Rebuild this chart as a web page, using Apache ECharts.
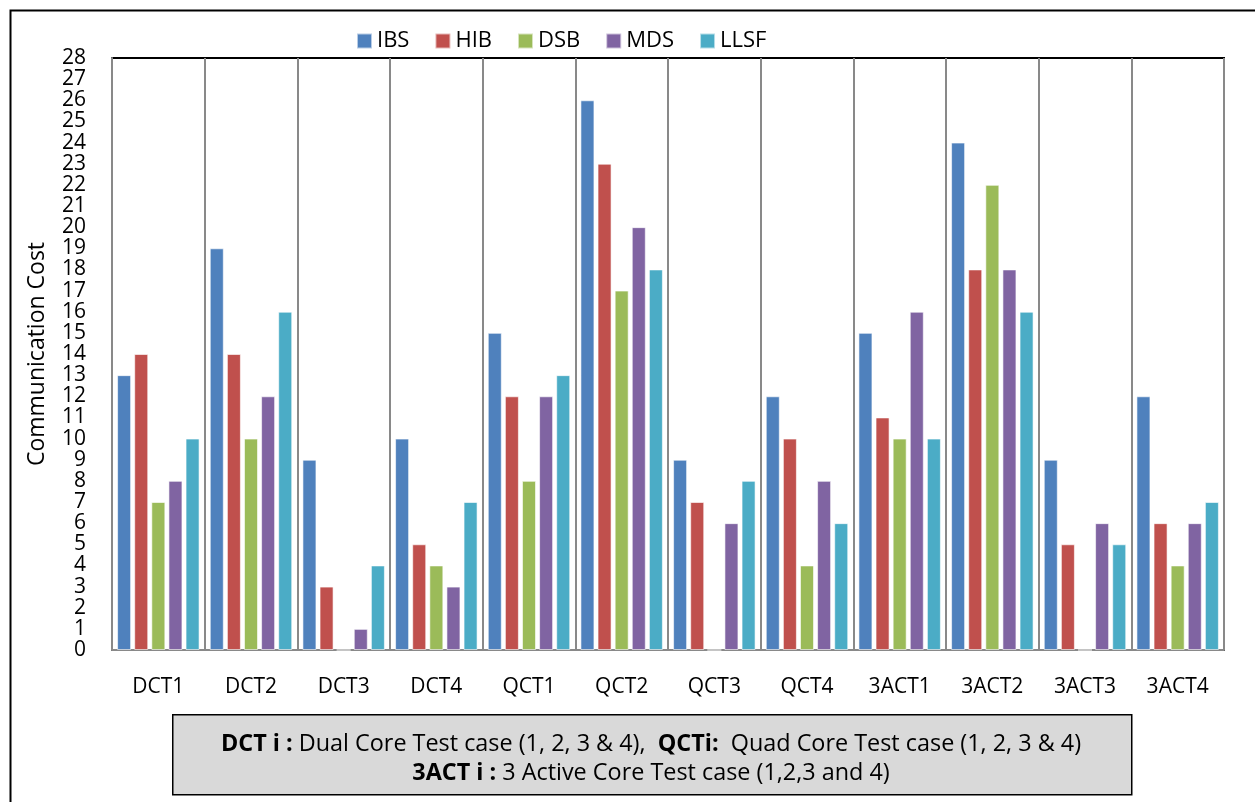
<!DOCTYPE html>
<html><head><meta charset="utf-8">
<script src="https://cdn.jsdelivr.net/npm/echarts@6/dist/echarts.min.js"></script>
<style>html,body{margin:0;padding:0;background:#fff}#c{width:1255px;height:802px}</style>
</head><body><div id="c"></div>
<script>
const categories = ['DCT1','DCT2','DCT3','DCT4','QCT1','QCT2','QCT3','QCT4','3ACT1','3ACT2','3ACT3','3ACT4'];
const IBS  = [13,19,9,10,15,26,9,12,15,24,9,12];
const HIB  = [14,14,3,5,12,23,7,10,11,18,5,6];
const DSB  = [7,10,0,4,8,17,0,4,10,22,0,4];
const MDS  = [8,12,1,3,12,20,6,8,16,18,6,6];
const LLSF = [10,16,4,7,13,18,8,6,10,16,5,7];
const seriesNames = ['IBS','HIB','DSB','MDS','LLSF'];
const seriesData = [IBS,HIB,DSB,MDS,LLSF];
const colors = ['#4F81BD','#C0504D','#9BBB59','#8064A2','#4BACC6'];
const FONT = '"Open Sans", "Liberation Sans", sans-serif';

const chart = echarts.init(document.getElementById('c'), null, {renderer:'canvas'});
chart.setOption({
  animation:false,
  color: colors,
  textStyle:{fontFamily:FONT},
  legend:{
    data: seriesNames, left: 351, top: 25, itemWidth: 15, itemHeight: 15, itemGap: 25,
    icon:'rect',
    textStyle:{fontSize:22, color:'#000', fontFamily:FONT}
  },
  grid:{left:112, right:31, top:58, bottom:152, show:true, borderColor:'#000', borderWidth:2},
  xAxis:{
    type:'category', data: categories,
    axisLine:{lineStyle:{color:'#898989', width:2}},
    axisTick:{show:false},
    splitLine:{show:true, interval:0, lineStyle:{color:'#898989', width:2}},
    axisLabel:{fontSize:21, color:'#000', margin:27, interval:0, fontFamily:FONT}
  },
  yAxis:{
    type:'value', min:0, max:28, interval:1,
    name:'Communication Cost', nameLocation:'middle', nameRotate:90, nameGap:63,
    nameTextStyle:{fontSize:23, color:'#000', fontFamily:FONT},
    axisLine:{show:true, lineStyle:{color:'#898989', width:2}},
    axisTick:{show:false},
    splitLine:{show:false},
    axisLabel:{fontSize:21, color:'#000', margin:26, fontFamily:FONT, lineHeight:21}
  },
  series: seriesNames.map((n,i)=>({
    name:n, type:'bar', data: seriesData[i],
    barGap:'22%', barCategoryGap:'11%',
    itemStyle:{color:colors[i], borderColor:'rgba(255,255,255,0.6)', borderWidth:1}
  })),
  graphic:[
    {type:'rect', left:8, top:8, shape:{width:1262, height:800}, style:{fill:'none', stroke:'#000', lineWidth:2}, silent:true, z:-1},
    {type:'rect', left:172, top:714, shape:{width:959, height:80}, style:{fill:'#d9d9d9', stroke:'#000', lineWidth:1.5}},
    {type:'text', x:651, y:744, style:{
      text:'{b|DCT i :} Dual Core Test case (1, 2, 3 & 4),  {b|QCTi:}  Quad Core Test case (1, 2, 3 & 4)',
      align:'center', verticalAlign:'middle', fontSize:23.4, fontFamily:FONT, fill:'#000',
      rich:{b:{fontWeight:'bold', fontSize:23.4, fontFamily:FONT}}
    }},
    {type:'text', x:651, y:773, style:{
      text:'{b|3ACT i :} 3 Active Core Test case (1,2,3 and 4)',
      align:'center', verticalAlign:'middle', fontSize:23.4, fontFamily:FONT, fill:'#000',
      rich:{b:{fontWeight:'bold', fontSize:23.4, fontFamily:FONT}}
    }}
  ]
});
</script></body></html>
